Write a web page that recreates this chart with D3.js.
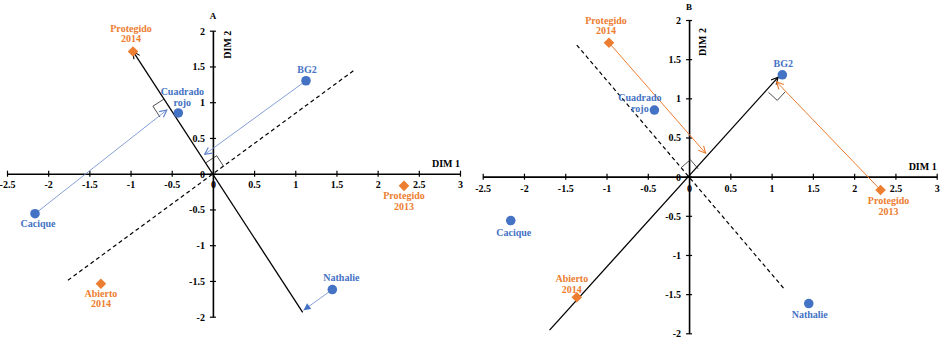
<!DOCTYPE html>
<html><head><meta charset="utf-8">
<script src="https://cdn.jsdelivr.net/npm/d3@7"></script>
<style>body{margin:0;background:#fff}svg{display:block}</style>
</head><body><svg id="c" width="948" height="349"></svg>
<script>
// ---------- data ----------
const xTicks = [-2.5,-2,-1.5,-1,-0.5,0,0.5,1,1.5,2,2.5,3];
const yTicks = [-2,-1.5,-1,-0.5,0,0.5,1,1.5,2];
const siteNames = ["Cacique","Cuadrado rojo","BG2","Nathalie"];
const siteX = [-2.16,-0.42,1.13,1.45];
const siteY = [-0.56,0.85,1.30,-1.62];
const treatNames = ["Protegido 2014","Protegido 2013","Abierto 2014"];
const treatX = [-0.97,2.32,-1.36];
const treatY = [1.71,-0.17,-1.54];
// panel A (biplot axis along Protegido 2014)
const axisLineA = [[1.09,-1.94],[-0.97,1.71]];
const dashLineA = [[-1.76,-1.49],[1.73,1.46]];
const projFromA = ["Cacique","BG2","Nathalie"];
const projToA = [[-0.56,0.89],[-0.10,0.27],[1.10,-1.91]];
const projHeadA = ["open","open","filled"];
const rightAnglesA = [{at:[0,0],a:[-0.97,1.71],b:[1.73,1.46]},{at:[-0.51,0.89],a:[-0.97,1.71],b:[-2.16,-0.56]}];
// panel B (biplot axis along BG2)
const axisLineB = [[-1.69,-1.96],[1.08,1.27]];
const dashLineB = [[-1.36,1.68],[1.15,-1.43]];
const projFromB = ["Protegido 2014","Protegido 2013"];
const projToB = [[0.20,0.30],[1.06,1.21]];
const projHeadB = ["open","open"];
const rightAnglesB = [{at:[0,0],a:[-1.36,1.68],b:[1.08,1.27]},{at:[1.06,1.19],a:[-1.69,-1.96],b:[2.32,-0.17]}];

// ---------- style / layout ----------
const BLUE = "#4472C4", ORANGE = "#ED7D31";
const FONT = "'Liberation Serif','Times New Roman',serif";
const labelOffA = {"Protegido 2014":[-2,-18],"Cuadrado rojo":[4,-16],"BG2":[1,-11],"Cacique":[3,10],
  "Abierto 2014":[0,14.5],"Protegido 2013":[0,15],"Nathalie":[9,-12]};
const labelOffB = {"Protegido 2014":[-3,-17],"Cuadrado rojo":[-14.5,-7],"BG2":[1,-11],"Cacique":[3,12],
  "Abierto 2014":[-5,-13.5],"Protegido 2013":[8,16],"Nathalie":[1,11]};

const svg = d3.select("#c");
svg.append("rect").attr("width",948).attr("height",349).attr("fill","#fff");

const defs = svg.append("defs");
function mkOpen(id,color){
  const m = defs.append("marker").attr("id",id).attr("viewBox","-8 -4 9 8")
    .attr("refX",0).attr("refY",0).attr("markerWidth",9).attr("markerHeight",8)
    .attr("markerUnits","userSpaceOnUse").attr("orient","auto");
  m.append("path").attr("d","M-7,-3.5L0,0L-7,3.5").attr("fill","none").attr("stroke",color).attr("stroke-width",1.1);
}
function mkFilled(id,color){
  const m = defs.append("marker").attr("id",id).attr("viewBox","-8 -4 9 8")
    .attr("refX",0).attr("refY",0).attr("markerWidth",9).attr("markerHeight",8)
    .attr("markerUnits","userSpaceOnUse").attr("orient","auto");
  m.append("path").attr("d","M-7,-3.5L0,0L-7,3.5Z").attr("fill",color);
}
mkOpen("openBlack","#000"); mkOpen("openBlue","#5B7FC7"); mkOpen("openOrange",ORANGE); mkFilled("fillBlue",BLUE);

const allPts = {};
siteNames.forEach((n,i)=>allPts[n]={x:siteX[i],y:siteY[i],type:"site"});
treatNames.forEach((n,i)=>allPts[n]={x:treatX[i],y:treatY[i],type:"treat"});

function panel(cfg){
  const g = svg.append("g");
  const x = d3.scaleLinear().domain([-2.5,3]).range(cfg.xr);
  const y = d3.scaleLinear().domain([-2,2]).range(cfg.yr);
  const X0 = x(0), Y0 = y(0);

  // x axis
  const gx = g.append("g").attr("transform",`translate(0,${Y0})`)
    .call(d3.axisBottom(x).tickValues(xTicks).tickSizeOuter(0).tickSizeInner(3).tickFormat(d=>String(d)));
  gx.select(".domain").attr("stroke","#000").attr("stroke-width",1.6);
  gx.selectAll(".tick line").attr("y1",-3).attr("y2",3).attr("stroke","#000").attr("stroke-width",1.2);
  gx.selectAll(".tick text").attr("y",cfg.xLabOff).attr("dy","0.35em")
    .attr("font-family",FONT).attr("font-weight","bold").attr("font-size",10).attr("fill","#000");
  // y axis
  const gy = g.append("g").attr("transform",`translate(${X0},0)`)
    .call(d3.axisLeft(y).tickValues(yTicks).tickSizeOuter(0).tickSizeInner(3).tickFormat(d=>String(d)));
  gy.select(".domain").attr("stroke","#000").attr("stroke-width",1.6);
  gy.selectAll(".tick line").attr("x1",-3).attr("x2",3).attr("stroke","#000").attr("stroke-width",1.2);
  gy.selectAll(".tick text").attr("x",-8).attr("dy","0.35em")
    .attr("font-family",FONT).attr("font-weight","bold").attr("font-size",10).attr("fill","#000");

  // titles
  g.append("text").attr("x",x(3)).attr("y",Y0-7).attr("text-anchor","end")
    .attr("font-family",FONT).attr("font-weight","bold").attr("font-size",10).text("DIM 1");
  g.append("text").attr("transform",`translate(${X0+cfg.dim2dx},${y(2)+cfg.dim2dy}) rotate(-90)`)
    .attr("text-anchor","middle").attr("dy","0.35em")
    .attr("font-family",FONT).attr("font-weight","bold").attr("font-size",10).text("DIM 2");
  g.append("text").attr("x",X0).attr("y",y(2)+cfg.letterDy).attr("text-anchor","middle")
    .attr("font-family",FONT).attr("font-weight","bold").attr("font-size",9).text(cfg.letter);

  // dashed line
  g.append("line").attr("x1",x(cfg.dash[0][0])).attr("y1",y(cfg.dash[0][1]))
    .attr("x2",x(cfg.dash[1][0])).attr("y2",y(cfg.dash[1][1]))
    .attr("stroke","#000").attr("stroke-width",1.2).attr("stroke-dasharray","4,3");
  // biplot axis line
  g.append("line").attr("x1",x(cfg.axis[0][0])).attr("y1",y(cfg.axis[0][1]))
    .attr("x2",x(cfg.axis[1][0])).attr("y2",y(cfg.axis[1][1]))
    .attr("stroke","#000").attr("stroke-width",1.3).attr("marker-end","url(#openBlack)");

  // right angle markers
  cfg.rights.forEach(r=>{
    const vx=x(r.at[0]), vy=y(r.at[1]);
    let ux=x(r.a[0])-vx, uy=y(r.a[1])-vy; const ul=Math.hypot(ux,uy); ux/=ul; uy/=ul;
    let px=-uy, py=ux;
    const bx=x(r.b[0])-vx, by=y(r.b[1])-vy;
    if (px*bx+py*by<0){px=-px;py=-py;}
    const s=cfg.sq;
    const pts=[[vx+s*ux,vy+s*uy],[vx+s*ux+s*px,vy+s*uy+s*py],[vx+s*px,vy+s*py]];
    g.append("path").attr("d",d3.line()(pts)).attr("fill","none").attr("stroke","#222").attr("stroke-width",0.8);
  });

  // projection arrows
  cfg.projFrom.forEach((n,i)=>{
    const p=allPts[n], t=cfg.projTo[i];
    const col = cfg.projColor;
    const mk = cfg.projHead[i]==="filled" ? "fillBlue" : cfg.openMk;
    g.append("line").attr("x1",x(p.x)).attr("y1",y(p.y)).attr("x2",x(t[0])).attr("y2",y(t[1]))
      .attr("stroke",col).attr("stroke-width",cfg.projW).attr("marker-end",`url(#${mk})`);
  });

  // points
  siteNames.forEach((n,i)=>{
    g.append("path").attr("d",d3.symbol(d3.symbolCircle,72)())
      .attr("transform",`translate(${x(siteX[i])},${y(siteY[i])})`).attr("fill",BLUE);
  });
  treatNames.forEach((n,i)=>{
    g.append("path").attr("d",d3.symbol(d3.symbolSquare,56)())
      .attr("transform",`translate(${x(treatX[i])},${y(treatY[i])}) rotate(45)`).attr("fill",ORANGE);
  });

  // labels
  Object.keys(allPts).forEach(n=>{
    const p=allPts[n], off=cfg.labOff[n];
    let lines;
    if (n==="BG2"||n==="Cacique"||n==="Nathalie") lines=[n];
    else { const k=n.lastIndexOf(" "); lines=[n.slice(0,k),n.slice(k+1)]; }
    const lh=10.5;
    const cx=x(p.x)+off[0], cy=y(p.y)+off[1];
    const t=g.append("text").attr("text-anchor","middle").attr("font-family",FONT)
      .attr("font-weight","bold").attr("font-size",10).attr("fill",p.type==="site"?BLUE:ORANGE);
    lines.forEach((l,j)=>{
      t.append("tspan").attr("x",cx).attr("y",cy+(j-(lines.length-1)/2)*lh).attr("dy","0.35em").text(l);
    });
  });
}

panel({xr:[7,460],yr:[316.7,30.7],xLabOff:11,dim2dx:15,dim2dy:14,letter:"A",letterDy:-12,
  dash:dashLineA,axis:axisLineA,rights:rightAnglesA,sq:13,projFrom:projFromA,projTo:projToA,projHead:projHeadA,
  projColor:"#7895D2",projW:0.9,openMk:"openBlue",labOff:labelOffA});
panel({xr:[482.7,936.7],yr:[333.3,20],xLabOff:12,dim2dx:13,dim2dy:22,letter:"B",letterDy:-10,
  dash:dashLineB,axis:axisLineB,rights:rightAnglesB,sq:12,projFrom:projFromB,projTo:projToB,projHead:projHeadB,
  projColor:ORANGE,projW:1,openMk:"openOrange",labOff:labelOffB});
</script></body></html>
